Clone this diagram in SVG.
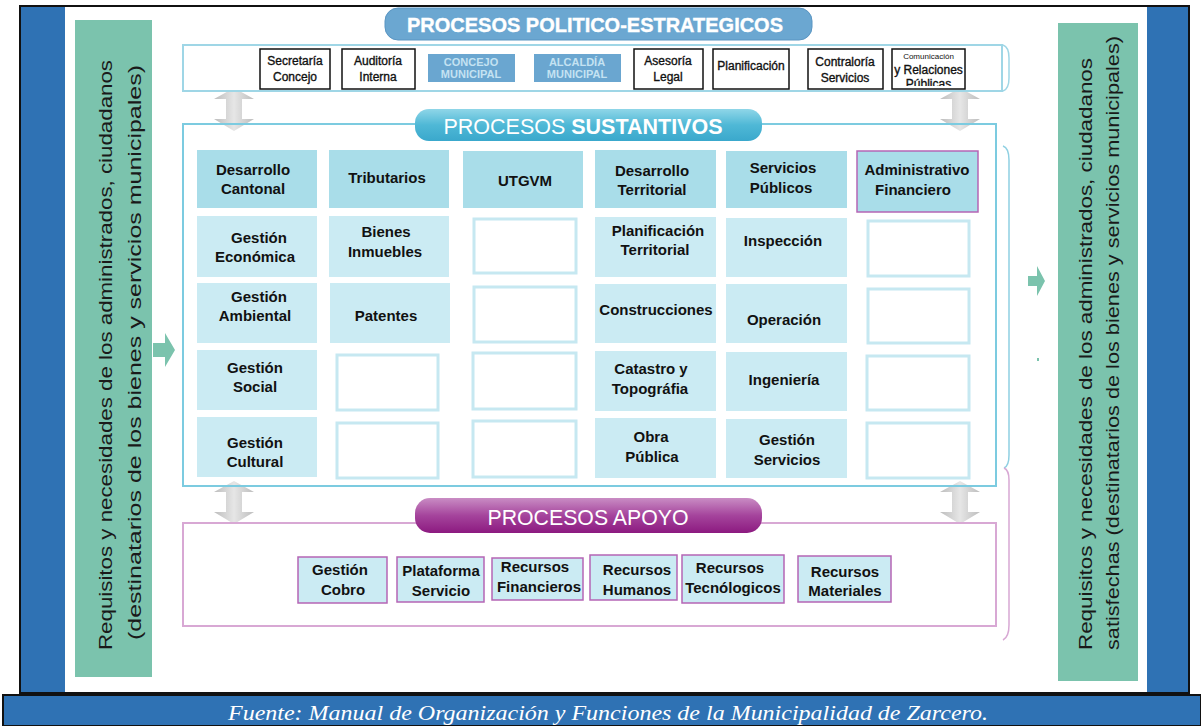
<svg xmlns="http://www.w3.org/2000/svg" width="1201" height="726" viewBox="0 0 1201 726">
<defs>
<style>
.t{font-family:"Liberation Sans",Arial,sans-serif;fill:#111;text-anchor:middle}
.c{font-size:15px;font-weight:bold}
.top{font-size:12px;stroke:#111;stroke-width:0.35}
.hdr{fill:#a9dde9}
.cell{fill:#cbebf3}
.emp{fill:#fff;stroke:#c6e8f1;stroke-width:3}
.tb{fill:#fff;stroke:#111;stroke-width:1.5}
.mb{fill:#6aa6d0}
.mbt{font-family:"Liberation Sans",Arial,sans-serif;font-size:11px;font-weight:bold;fill:#c4e2f2;text-anchor:middle}
.ap{fill:#cbebf3;stroke:#b565b5;stroke-width:1.5}
.side{font-family:"Liberation Sans",Arial,sans-serif;font-size:19px;fill:#1a1a1a}
.pt{font-family:"Liberation Sans",Arial,sans-serif;fill:#fff;text-anchor:middle}
</style>
<linearGradient id="gray" x1="0" y1="0" x2="1" y2="0">
<stop offset="0" stop-color="#bdbdbd"/><stop offset="0.5" stop-color="#e6e6e6"/><stop offset="1" stop-color="#bdbdbd"/>
</linearGradient>
<linearGradient id="cyan" x1="0" y1="0" x2="0" y2="1">
<stop offset="0" stop-color="#8fd6e8"/><stop offset="0.5" stop-color="#4fb8d6"/><stop offset="1" stop-color="#3aa8cc"/>
</linearGradient>
<linearGradient id="purp" x1="0" y1="0" x2="0" y2="1">
<stop offset="0" stop-color="#c98cc4"/><stop offset="0.5" stop-color="#a5449c"/><stop offset="1" stop-color="#8c1a80"/>
</linearGradient>
<path id="dbl" d="M0,0 L20,11 L8,11 L8,31 L20,31 L0,43 L-20,31 L-8,31 L-8,11 L-20,11 Z" fill="url(#gray)"/>
</defs>

<!-- frame -->
<rect x="0" y="0" width="1201" height="726" fill="#fff"/>
<rect x="20" y="6" width="1169" height="687" fill="#2f72b4" stroke="#111" stroke-width="2"/>
<rect x="65" y="7" width="1082" height="685" fill="#fff"/>
<rect x="3" y="695" width="1198" height="31" fill="#2f72b4" stroke="#111" stroke-width="2"/>
<text x="608" y="720" font-family="'Liberation Serif','Times New Roman',serif" font-style="italic" font-size="20" fill="#fff" text-anchor="middle" textLength="760" lengthAdjust="spacingAndGlyphs">Fuente: Manual de Organización y Funciones de la Municipalidad de Zarcero.</text>

<!-- side bars -->
<g id="side-left">
<rect x="75" y="20" width="77" height="657" fill="#7bc3ad"/>
<text class="side" transform="translate(112,650) rotate(-90)" textLength="590" lengthAdjust="spacingAndGlyphs">Requisitos  y necesidades de los administrados, ciudadanos</text>
<text class="side" transform="translate(141,640) rotate(-90)" textLength="575" lengthAdjust="spacingAndGlyphs">(destinatarios de los bienes y servicios municipales)</text>
</g>
<g id="side-right">
<rect x="1058" y="23" width="80" height="658" fill="#7bc3ad"/>
<text class="side" transform="translate(1092,650) rotate(-90)" textLength="592" lengthAdjust="spacingAndGlyphs">Requisitos y necesidades de los administrados, ciudadanos</text>
<text class="side" transform="translate(1119,650) rotate(-90)" textLength="614" lengthAdjust="spacingAndGlyphs">satisfechas (destinatarios de los bienes y servicios municipales)</text>
</g>

<g id="connectors">
<path d="M153,343 H165 V333 L175,350 L165,367 V357 H153 Z" fill="#7bc3ad"/>
<path d="M1028,276 H1037 V266 L1045,281 L1037,296 V286 H1028 Z" fill="#7bc3ad"/>
<rect x="1037" y="358" width="2" height="3" fill="#7bc3ad"/>
<use href="#dbl" x="234" y="88"/>
<use href="#dbl" x="960" y="88"/>
<use href="#dbl" x="234" y="481"/>
<use href="#dbl" x="960" y="481"/>
<path d="M1003,45 Q1009,47 1009,58 V78 Q1009,89 1003,91" fill="none" stroke="#9fd6e6" stroke-width="1.5"/>
<path d="M1003,146 Q1009,148 1009,160 V455 Q1009,466 1004,468" fill="none" stroke="#8fd0e2" stroke-width="1.5"/>
<path d="M1004,468 Q1009,470 1009,480 V625 Q1009,637 1003,640" fill="none" stroke="#d8a8d4" stroke-width="1.5"/>
</g>

<!-- Politico-estrategicos -->
<g id="pe-header">
<rect x="385" y="8" width="427" height="32" rx="13" fill="#6ba7d1" stroke="#5a95c2" stroke-width="1"/>
<text class="pt" x="595" y="32" font-size="21" font-weight="bold" stroke="#fff" stroke-width="0.4" textLength="376" lengthAdjust="spacingAndGlyphs">PROCESOS POLITICO-ESTRATEGICOS</text>
</g>
<g id="pe-box"><rect x="183" y="45" width="819" height="46" fill="#fff" stroke="#9fd6e6" stroke-width="2"/></g>
<g id="secretaria"><rect class="tb" x="260" y="49" width="70" height="40"/><text class="t top" x="295" y="65">Secretaría</text><text class="t top" x="295" y="81">Concejo</text></g>
<g id="auditoria"><rect class="tb" x="342" y="49" width="73" height="40"/><text class="t top" x="378" y="65">Auditoría</text><text class="t top" x="378" y="81">Interna</text></g>
<g id="concejo"><rect class="mb" x="428" y="54" width="87" height="28"/><text class="mbt" x="471" y="66">CONCEJO</text><text class="mbt" x="471" y="78">MUNICIPAL</text></g>
<g id="alcaldia"><rect class="mb" x="534" y="54" width="87" height="28"/><text class="mbt" x="577" y="66">ALCALDÍA</text><text class="mbt" x="577" y="78">MUNICIPAL</text></g>
<g id="asesoria"><rect class="tb" x="634" y="49" width="69" height="40"/><text class="t top" x="668" y="65">Asesoría</text><text class="t top" x="668" y="81">Legal</text></g>
<g id="planificacion"><rect class="tb" x="713" y="49" width="76" height="40"/><text class="t top" x="751" y="70" font-size="11">Planificación</text></g>
<g id="contraloria"><rect class="tb" x="808" y="49" width="75" height="40"/><text class="t top" x="845" y="66">Contraloría</text><text class="t top" x="845" y="82">Servicios</text></g>
<g id="comunicacion"><rect class="tb" x="892" y="49" width="73" height="40"/>
<svg x="892" y="49" width="73" height="37" overflow="hidden"><text class="t" x="36.5" y="10" font-size="8">Comunicación</text><text class="t top" x="36.5" y="25" font-size="11">y Relaciones</text><text class="t top" x="36.5" y="39" font-size="11">Públicas</text></svg></g>

<!-- Sustantivos -->
<g id="sus-box"><rect x="183" y="124" width="813" height="362" fill="none" stroke="#7ccbe0" stroke-width="2"/></g>
<g id="sus-header">
<rect x="415" y="109" width="347" height="32" rx="14" fill="url(#cyan)"/>
<text class="pt" x="583" y="134" font-size="22" textLength="279" lengthAdjust="spacingAndGlyphs">PROCESOS <tspan font-weight="bold">SUSTANTIVOS</tspan></text>
</g>

<g id="desarrollo-cantonal"><rect class="hdr" x="197" y="150" width="120" height="58"/><text class="t c" x="253" y="175">Desarrollo</text><text class="t c" x="253" y="194">Cantonal</text></g>
<g id="tributarios"><rect class="hdr" x="329" y="150" width="120" height="58"/><text class="t c" x="387" y="183">Tributarios</text></g>
<g id="utgvm"><rect class="hdr" x="463" y="151" width="120" height="57"/><text class="t c" x="525" y="186">UTGVM</text></g>
<g id="desarrollo-territorial"><rect class="hdr" x="595" y="150" width="121" height="58"/><text class="t c" x="652" y="176">Desarrollo</text><text class="t c" x="652" y="195">Territorial</text></g>
<g id="servicios-publicos"><rect class="hdr" x="726" y="151" width="121" height="57"/><text class="t c" x="783" y="173">Servicios</text><text class="t c" x="781" y="193">Públicos</text></g>
<g id="administrativo-financiero"><rect class="hdr" x="857" y="151" width="121" height="61" stroke="#b565b5" stroke-width="1.5"/><text class="t c" x="917" y="175">Administrativo</text><text class="t c" x="913" y="195">Financiero</text></g>

<g id="gestion-economica"><rect class="cell" x="197" y="216" width="120" height="61"/><text class="t c" x="259" y="243">Gestión</text><text class="t c" x="255" y="262">Económica</text></g>
<g id="bienes-inmuebles"><rect class="cell" x="329" y="216" width="120" height="61"/><text class="t c" x="386" y="237">Bienes</text><text class="t c" x="385" y="257">Inmuebles</text></g>
<g id="e-3-2"><rect class="emp" x="474" y="219" width="102" height="54"/></g>
<g id="planificacion-territorial"><rect class="cell" x="595" y="217" width="121" height="60"/><text class="t c" x="658" y="236">Planificación</text><text class="t c" x="655" y="255">Territorial</text></g>
<g id="inspeccion"><rect class="cell" x="726" y="218" width="121" height="59"/><text class="t c" x="783" y="246">Inspección</text></g>
<g id="e-6-2"><rect class="emp" x="868" y="221" width="101" height="55"/></g>

<g id="gestion-ambiental"><rect class="cell" x="197" y="283" width="120" height="60"/><text class="t c" x="259" y="302">Gestión</text><text class="t c" x="255" y="321">Ambiental</text></g>
<g id="patentes"><rect class="cell" x="330" y="283" width="120" height="60"/><text class="t c" x="386" y="321">Patentes</text></g>
<g id="e-3-3"><rect class="emp" x="474" y="287" width="102" height="55"/></g>
<g id="construcciones"><rect class="cell" x="595" y="284" width="121" height="59"/><text class="t c" x="656" y="315">Construcciones</text></g>
<g id="operacion"><rect class="cell" x="726" y="284" width="121" height="59"/><text class="t c" x="784" y="325">Operación</text></g>
<g id="e-6-3"><rect class="emp" x="868" y="289" width="101" height="54"/></g>

<g id="gestion-social"><rect class="cell" x="197" y="350" width="120" height="60"/><text class="t c" x="255" y="373">Gestión</text><text class="t c" x="255" y="392">Social</text></g>
<g id="e-2-4"><rect class="emp" x="337" y="355" width="101" height="55"/></g>
<g id="e-3-4"><rect class="emp" x="473" y="353" width="103" height="56"/></g>
<g id="catastro"><rect class="cell" x="595" y="351" width="121" height="60"/><text class="t c" x="651" y="374">Catastro y</text><text class="t c" x="650" y="394">Topográfia</text></g>
<g id="ingenieria"><rect class="cell" x="726" y="352" width="121" height="59"/><text class="t c" x="784" y="385">Ingeniería</text></g>
<g id="e-6-4"><rect class="emp" x="867" y="356" width="102" height="54"/></g>

<g id="gestion-cultural"><rect class="cell" x="197" y="417" width="120" height="60"/><text class="t c" x="255" y="448">Gestión</text><text class="t c" x="255" y="467">Cultural</text></g>
<g id="e-2-5"><rect class="emp" x="337" y="423" width="101" height="55"/></g>
<g id="e-3-5"><rect class="emp" x="473" y="421" width="103" height="56"/></g>
<g id="obra-publica"><rect class="cell" x="595" y="418" width="121" height="60"/><text class="t c" x="651" y="442">Obra</text><text class="t c" x="652" y="462">Pública</text></g>
<g id="gestion-servicios"><rect class="cell" x="726" y="419" width="121" height="59"/><text class="t c" x="787" y="445">Gestión</text><text class="t c" x="787" y="465">Servicios</text></g>
<g id="e-6-5"><rect class="emp" x="867" y="423" width="102" height="55"/></g>

<!-- Apoyo -->
<g id="apoyo-box"><rect x="183" y="523" width="813" height="103" fill="none" stroke="#d8a8d4" stroke-width="2"/></g>
<g id="apoyo-header">
<rect x="415" y="498" width="347" height="35" rx="15" fill="url(#purp)"/>
<text class="pt" x="588" y="525" font-size="22" textLength="201" lengthAdjust="spacingAndGlyphs">PROCESOS APOYO</text>
</g>
<g id="gestion-cobro"><rect class="ap" x="298" y="557" width="89" height="46"/><text class="t c" x="340" y="575">Gestión</text><text class="t c" x="343" y="595">Cobro</text></g>
<g id="plataforma-servicio"><rect class="ap" x="397" y="557" width="87" height="45"/><text class="t c" x="441" y="576">Plataforma</text><text class="t c" x="441" y="596">Servicio</text></g>
<g id="recursos-financieros"><rect class="ap" x="492" y="558" width="91" height="42"/><text class="t c" x="535" y="572">Recursos</text><text class="t c" x="539" y="592">Financieros</text></g>
<g id="recursos-humanos"><rect class="ap" x="590" y="555" width="87" height="45"/><text class="t c" x="637" y="575">Recursos</text><text class="t c" x="637" y="595">Humanos</text></g>
<g id="recursos-tecnologicos"><rect class="ap" x="682" y="555" width="102" height="48"/><text class="t c" x="730" y="573">Recursos</text><text class="t c" x="733" y="593">Tecnólogicos</text></g>
<g id="recursos-materiales"><rect class="ap" x="798" y="556" width="93" height="46"/><text class="t c" x="845" y="577">Recursos</text><text class="t c" x="845" y="596">Materiales</text></g>
</svg>
